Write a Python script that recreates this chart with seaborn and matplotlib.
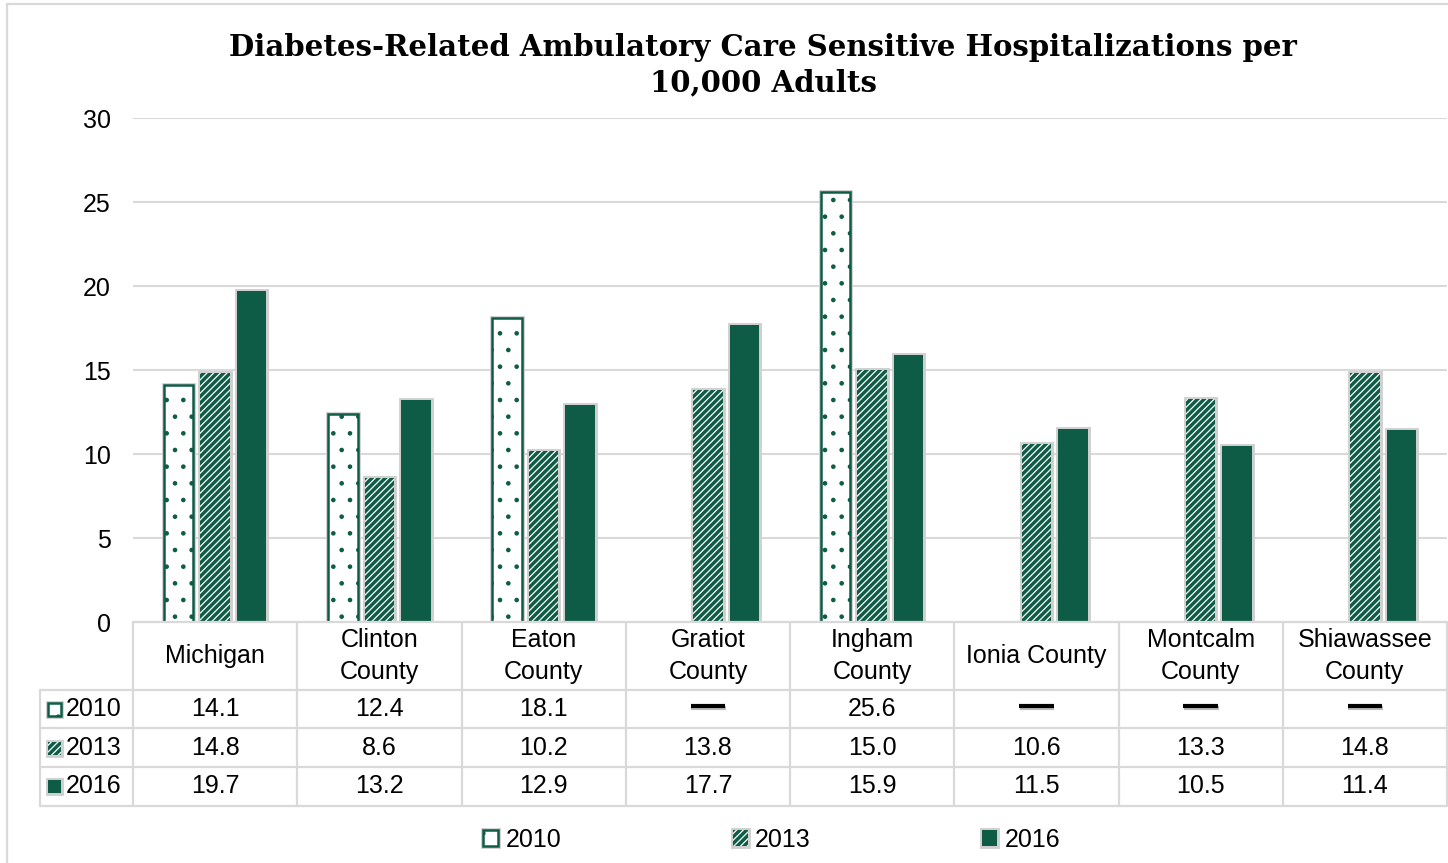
import numpy as np
import pandas as pd
import seaborn as sns
import matplotlib.pyplot as plt
import matplotlib.patheffects as pe
import matplotlib.transforms as mtransforms
from matplotlib.patches import Rectangle
from matplotlib.lines import Line2D

# Data (None = not reported)
areas = ['Michigan', 'Clinton\nCounty', 'Eaton\nCounty', 'Gratiot\nCounty',
         'Ingham\nCounty', 'Ionia County', 'Montcalm\nCounty', 'Shiawassee\nCounty']
years = ['2010', '2013', '2016']
vals_2010 = [14.1, 12.4, 18.1, None, 25.6, None, None, None]
vals_2013 = [14.8, 8.6, 10.2, 13.8, 15.0, 10.6, 13.3, 14.8]
vals_2016 = [19.7, 13.2, 12.9, 17.7, 15.9, 11.5, 10.5, 11.4]
yticks = [0, 5, 10, 15, 20, 25, 30]

title = 'Diabetes-Related Ambulatory Care Sensitive Hospitalizations per\n10,000 Adults'

green = '#0E5C46'
grid_gray = '#D9D9D9'

series = {'2010': vals_2010, '2013': vals_2013, '2016': vals_2016}
rows = []
for y in years:
    for a, v in zip(areas, series[y]):
        rows.append({'area': a, 'year': y, 'value': v})
df = pd.DataFrame(rows).dropna()

sns.set_theme(style='white')
plt.rcParams['font.family'] = ['Liberation Sans', 'DejaVu Sans']
plt.rcParams['hatch.linewidth'] = 0.9
for k in ['text.color', 'axes.labelcolor', 'xtick.color', 'ytick.color']:
    plt.rcParams[k] = 'black'

W, H = 1448, 863
fig = plt.figure(figsize=(W / 100, H / 100), dpi=100)
ax = fig.add_axes([133 / W, (H - 622) / H, (1447 - 133) / W, (622 - 118) / H])

sns.barplot(data=df, x='area', y='value', hue='year', order=areas, hue_order=years,
            palette=['white', green, green], width=0.667, gap=0.19,
            errorbar=None, legend=False, ax=ax)

shadow = [pe.Stroke(linewidth=3.5, foreground='#CFCFCF'), pe.Normal()]
styles = {
    '2010': dict(facecolor='white', edgecolor=green, hatch='.', linewidth=1.8),
    '2013': dict(facecolor=green, edgecolor='white', hatch='/////', linewidth=0),
    '2016': dict(facecolor=green, edgecolor=green, hatch=None, linewidth=0),
}
for y, cont in zip(years, ax.containers):
    for p in cont.patches:
        p.set(**styles[y])
        p.set_path_effects(shadow)

ax.set_xlim(-0.5, len(areas) - 0.5)
ax.set_ylim(0, 30)
ax.set_yticks(yticks)
ax.set_yticklabels([str(t) for t in yticks], fontsize=18)
ax.tick_params(axis='y', length=0, pad=16)
ax.set_xticks([])
ax.set_xlabel('')
ax.set_ylabel('')
ax.grid(axis='y', color=grid_gray, linewidth=1.5)
ax.set_axisbelow(True)
for s in ['left', 'right', 'top', 'bottom']:
    ax.spines[s].set_visible(False)


def fy(py):
    return (H - py) / H


fig.text(0.527, fy(65), title, ha='center', va='center', fontsize=21,
         fontweight='bold', family='DejaVu Serif', linespacing=1.3)

# data table under the axis
blend = mtransforms.blended_transform_factory(ax.transData, fig.transFigure)

row_edges = [622, 690, 728, 767, 806]
row_centers = [656, 709, 748, 786]
left_px = 40
lkw = dict(color=grid_gray, linewidth=1.6, clip_on=False)

for py in row_edges:
    x0 = 133 if py == 622 else left_px
    fig.add_artist(Line2D([x0 / W, 1446 / W], [fy(py), fy(py)], transform=fig.transFigure, **lkw))
for i in range(len(areas) + 1):
    fig.add_artist(Line2D([i - 0.5, i - 0.5], [fy(622), fy(806)], transform=blend, **lkw))
fig.add_artist(Line2D([left_px / W, left_px / W], [fy(690), fy(806)], transform=fig.transFigure, **lkw))

for i, a in enumerate(areas):
    fig.text(i, fy(row_centers[0]), a, transform=blend, ha='center', va='center',
             fontsize=18, linespacing=1.4)

for r, y in enumerate(years):
    cy = fy(row_centers[r + 1])
    for i, v in enumerate(series[y]):
        if v is None:
            fig.add_artist(Line2D([i - 0.105, i + 0.105], [cy + 0.003, cy + 0.003], transform=blend,
                                  color='black', linewidth=3.0, solid_capstyle='butt',
                                  path_effects=[pe.SimpleLineShadow(offset=(0.5, -0.8), shadow_color='#BBBBBB', alpha=1),
                                                pe.Normal()]))
        else:
            fig.text(i, cy, f'{v:.1f}', transform=blend, ha='center', va='center', fontsize=18)
    # swatch + year label
    st = styles[y]
    sw = Rectangle((48 / W, cy - 6.5 / H), 13 / W, 13 / H, transform=fig.transFigure,
                   facecolor=st['facecolor'], edgecolor=st['edgecolor'], hatch=st['hatch'],
                   linewidth=st['linewidth'], path_effects=shadow)
    fig.add_artist(sw)
    fig.text(66 / W, cy, y, ha='left', va='center', fontsize=18)

# bottom legend
handles = [ax.containers[k].patches[0] for k in range(3)]
fig.legend(handles, years, loc='center', bbox_to_anchor=(0.533, fy(840)), ncol=3,
           frameon=False, fontsize=18, handlelength=0.6, handleheight=0.6,
           handletextpad=0.3, columnspacing=6.85)

# outer chart border
fig.add_artist(Rectangle((7 / W, -0.01), 1.05, fy(4) + 0.01, transform=fig.transFigure,
                         fill=False, edgecolor=grid_gray, linewidth=1.6))

fig.savefig('out.png', dpi=100)
